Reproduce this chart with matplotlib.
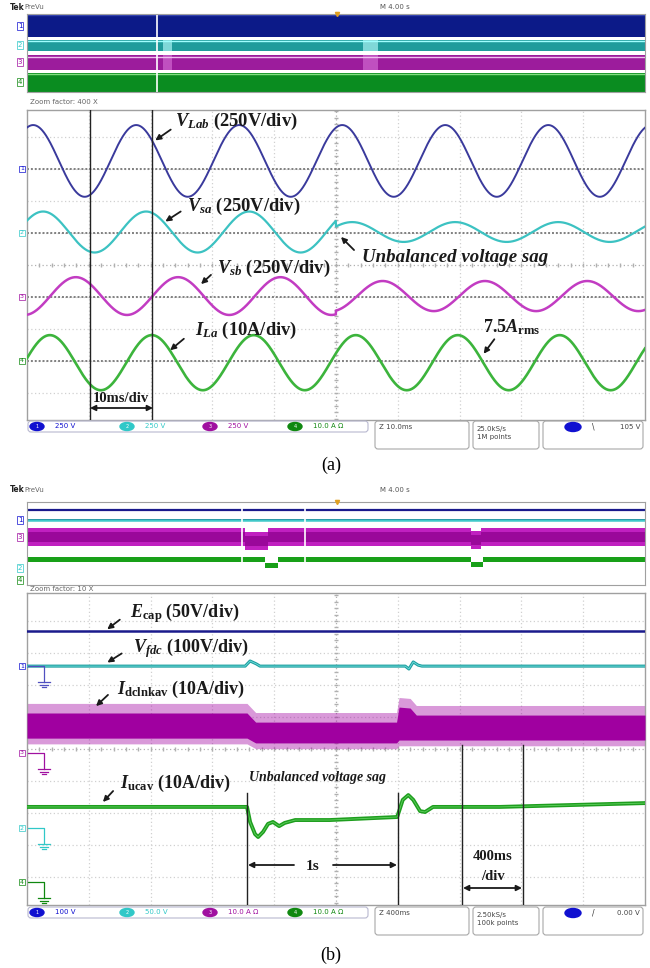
import numpy as np
import matplotlib.pyplot as plt
from matplotlib.patches import Ellipse, FancyBboxPatch

W, H = 650, 968

# ---------------- panel (a): zoomed traces, in divisions (10 ms/div) ----------------
a_names = [r'$V_{Lab}$', r'$V_{sa}$', r'$V_{sb}$', r'$I_{La}$']
a_scale = ['(250V/div)', '(250V/div)', '(250V/div)', '(10A/div)']
a_colors = ['#3a3a9c', '#3cc2c2', '#c23cc2', '#3cb43c']
a_center = [3.25, 1.03, -0.97, -3.05]
a_amp_pre = [1.12, 0.64, 0.59, 0.86]
a_amp_post = [1.12, 0.31, 0.47, 0.86]
a_peak0 = [0.10, 0.26, 0.79, 0.37]
a_period = [1.667, 1.667, 1.655, 1.65]
a_ref = [3, 1, -1, -3]
a_sag = 5.0
a_cursors = [1.02, 2.03]
a_readout = ['250 V', '250 V', '250 V', '10.0 A \u03a9']
a_boxes = ['Z 10.0ms', '25.0kS/s\n1M points', '105 V']

# overview strip (a): band extents as fraction of strip height
ova_top = [0.0, 0.33, 0.53, 0.75]
ova_bot = [0.30, 0.48, 0.72, 1.0]
ova_colors = ['#0c1a88', '#1f9c9c', '#9c1c9c', '#0a8c20']
ova_edge = ['#3040b0', '#a0ffff', '#f0c0f0', '#80e080']
ova_gap = 2.1
ova_patch = [(2.2, 2.35), (5.44, 5.68)]

# ---------------- panel (b): 400 ms/div ----------------
b_colors = ['#1a1a8c', '#1f9f9f', '#a000a0', '#1e9e1e']
b_ecap = 3.69
b_fdc_t = [0, 3.53, 3.61, 3.71, 3.77, 6.12, 6.18, 6.25, 6.33, 6.39, 10]
b_fdc_v = [2.59, 2.59, 2.75, 2.66, 2.59, 2.59, 2.50, 2.72, 2.62, 2.59, 2.59]
b_dc_t = [0, 3.56, 3.70, 5.98, 6.02, 6.20, 6.30, 10]
b_dc_top = [1.125, 1.125, 0.84, 0.84, 1.31, 1.28, 1.06, 1.06]
b_dc_bot = [0.34, 0.34, 0.19, 0.19, 0.28, 0.28, 0.28, 0.28]
b_ucav_t = [0, 3.56, 3.61, 3.69, 3.74, 3.82, 3.90, 3.98, 4.08, 4.17, 4.34, 4.90,
            5.99, 6.08, 6.17, 6.25, 6.36, 6.44, 6.57, 7.65, 10]
b_ucav_v = [-1.81, -1.81, -2.28, -2.66, -2.75, -2.59, -2.34, -2.28, -2.41, -2.31, -2.22, -2.22,
            -2.125, -1.59, -1.44, -1.59, -1.94, -1.97, -1.81, -1.81, -1.69]
b_gnd = [2.59, -2.47, -0.125, -4.16]   # channel 1..4 ground markers
b_cursors1 = [3.56, 6.0]
b_cursors2 = [7.04, 8.03]
b_readout = ['100 V', '50.0 V', '10.0 A \u03a9', '10.0 A \u03a9']
b_boxes = ['Z 400ms', '2.50kS/s\n100k points', '0.00 V']

# overview strip (b)
ovb_blue = 0.10
ovb_cyan = 0.22
ovb_mag = (0.31, 0.53)
ovb_green = 0.69
ovb_mag_dips = [(3.53, 3.90), (7.18, 7.35)]
ovb_green_dips = [(3.85, 4.06), (7.18, 7.38)]
ovb_gaps = [3.48, 4.5]

ch_colors = ['#1010d0', '#30c8c8', '#a010a0', '#108810']

plt.rcParams['mathtext.fontset'] = 'custom'
plt.rcParams['mathtext.it'] = 'Liberation Serif:italic:bold'
plt.rcParams['mathtext.rm'] = 'Liberation Serif:bold'
plt.rcParams['mathtext.bf'] = 'Liberation Serif:bold'

fig = plt.figure(figsize=(6.5, 9.68), dpi=100)


def px_axes(x0, y0, x1, y1, z=1):
    return fig.add_axes([x0 / W, 1 - y1 / H, (x1 - x0) / W, (y1 - y0) / H], zorder=z)


ov = px_axes(0, 0, W, H, z=10)
ov.set_xlim(0, W)
ov.set_ylim(H, 0)
ov.axis('off')
ov.patch.set_alpha(0)

SERIF = 'Liberation Serif'


def scope_axes(y0, y1, half):
    ax = px_axes(27, y0, 645, y1)
    ax.set_xlim(0, 10)
    ax.set_ylim(-half, half)
    ax.set_xticks([])
    ax.set_yticks([])
    for s in ax.spines.values():
        s.set_color('#a0a0a0')
        s.set_linewidth(1.0)
    for xv in range(1, 10):
        ax.axvline(xv, color='#b0b0b0' if xv == 5 else '#d0d0d0', lw=0.9,
                   ls=(0, (1, 2)), zorder=0)
    for yv in range(-4, 5):
        ax.axhline(yv, color='#b0b0b0' if yv == 0 else '#d0d0d0', lw=0.9,
                   ls=(0, (1, 2)), zorder=0)
    tk = np.arange(0.2, 10, 0.2)
    ax.plot(tk, np.zeros_like(tk), ls='none', marker='|', ms=3, color='#b0b0b0', zorder=0)
    tky = np.arange(-4.8, 4.9, 0.2)
    ax.plot(np.full_like(tky, 5.0), tky, ls='none', marker='_', ms=3, color='#b0b0b0', zorder=0)
    return ax


def header(y, zoom_txt, zoom_y):
    ov.text(10, y, 'Tek', fontsize=5.5, weight='bold', color='#222', va='center')
    ov.text(24, y, 'PreVu', fontsize=5, color='#666', va='center')
    ov.text(380, y, 'M 4.00 s', fontsize=5, color='#555', va='center')
    ov.text(30, zoom_y, zoom_txt, fontsize=5, color='#666', va='center')


def status_bar(y0, readouts, boxes, trig_sym):
    ov.add_patch(FancyBboxPatch((28, y0 + 1), 340, 11, boxstyle='round,pad=0,rounding_size=3',
                                fc='none', ec='#b8b8d0', lw=0.8))
    xs = [37, 127, 210, 295]
    for i in range(4):
        ov.add_patch(Ellipse((xs[i], y0 + 6.5), 14, 8, color=ch_colors[i]))
        ov.text(xs[i], y0 + 6.5, str(i + 1), fontsize=3.5, color='white', ha='center', va='center')
        ov.text(xs[i] + 18, y0 + 6.5, readouts[i], fontsize=5, color=ch_colors[i], va='center')
    for (bx0, bx1) in [(375, 469), (473, 539), (543, 643)]:
        ov.add_patch(FancyBboxPatch((bx0, y0 + 1), bx1 - bx0, 28,
                                    boxstyle='round,pad=0,rounding_size=3',
                                    fc='none', ec='#a8a8a8', lw=0.8))
    ov.text(379, y0 + 7, boxes[0], fontsize=5, color='#444', va='center')
    ov.text(477, y0 + 13, boxes[1], fontsize=5, color='#444', va='center', linespacing=1.3)
    ov.add_patch(Ellipse((573, y0 + 7), 16, 9, color='#1010d0'))
    ov.text(593, y0 + 7, trig_sym, fontsize=5.5, color='#333', va='center', ha='center')
    ov.text(640, y0 + 7, boxes[2], fontsize=5, color='#444', va='center', ha='right')


def label(x, y, name, scale, tail, tip, fs=13.3):
    ov.text(x, y, name + ' ' + scale, fontsize=fs, family=SERIF, weight='bold',
            color='#1a1a1a', va='center', ha='left')
    ov.annotate('', xy=tip, xytext=tail,
                arrowprops=dict(arrowstyle='-|>', color='#1a1a1a', lw=1.3, mutation_scale=8))


def dbl_arrow(x0, x1, y):
    ov.annotate('', xy=(x1, y), xytext=(x0, y),
                arrowprops=dict(arrowstyle='<|-|>', color='#1a1a1a', lw=1.3,
                                mutation_scale=8, shrinkA=0, shrinkB=0))


# ======================= panel (a) =======================
header(7, 'Zoom factor: 400 X', 102)
sa = px_axes(27, 14, 645, 92)
sa.set_xlim(0, 10)
sa.set_ylim(1, 0)
sa.set_xticks([])
sa.set_yticks([])
for s in sa.spines.values():
    s.set_color('#a0a0a0')
for i in range(4):
    sa.axhspan(ova_bot[i], ova_top[i], color=ova_colors[i], lw=0)
    sa.axhline(ova_top[i] + 0.015, color=ova_edge[i], lw=1.0)
for (p0, p1) in ova_patch:
    sa.fill_between([p0, p1], ova_top[1], ova_bot[1], color='#7fd8d8', lw=0)
    sa.fill_between([p0, p1], ova_top[2], ova_bot[2], color='#c050c0', lw=0)
sa.axvline(ova_gap, color='white', lw=1.2)
ov.plot([337], [14], marker='v', color='#e0a020', ms=3)
for i, yy in enumerate([26, 45, 62, 82]):
    ov.text(20, yy, str(i + 1), fontsize=5, color=ch_colors[i], ha='center', va='center',
            bbox=dict(boxstyle='square,pad=0.1', fc='white', ec=ch_colors[i], lw=0.5))

axa = scope_axes(110, 420, 4.84)
t = np.linspace(0, 10, 3001)
a_lw = [1.4, 1.6, 1.8, 1.9]
for i in range(4):
    axa.axhline(a_ref[i], color='#808080', lw=1.4, ls=(0, (1, 1)), zorder=1)
    amp = np.where(t < a_sag, a_amp_pre[i], a_amp_post[i])
    y = a_center[i] + amp * np.cos(2 * np.pi * (t - a_peak0[i]) / a_period[i])
    axa.plot(t, y, color=a_colors[i], lw=a_lw[i], zorder=3)
for c in a_cursors:
    axa.axvline(c, color='#222', lw=1.0, zorder=4)
for i, yv in enumerate(a_ref):
    yy = 265 - yv * 32
    ov.text(22, yy, str(i + 1), fontsize=4.5, color=ch_colors[i], ha='center', va='center',
            bbox=dict(boxstyle='square,pad=0.1', fc='white', ec=ch_colors[i], lw=0.5))

label(175, 121, a_names[0], a_scale[0], (173, 128), (153, 142))
label(187, 206, a_names[1], a_scale[1], (183, 210), (163, 223))
label(217, 268, a_names[2], a_scale[2], (213, 273), (199, 286))
label(195, 330, a_names[3], a_scale[3], (186, 337), (168, 352))
ov.text(362, 258, 'Unbalanced voltage sag', fontsize=13.6, family=SERIF, weight='bold',
        style='italic', color='#1a1a1a', va='center')
ov.annotate('', xy=(339, 235), xytext=(356, 252),
            arrowprops=dict(arrowstyle='-|>', color='#1a1a1a', lw=1.3, mutation_scale=8))
ov.text(483, 327, r'$7.5A_{\mathrm{rms}}$', fontsize=13, color='#1a1a1a', va='center')
ov.annotate('', xy=(482, 356), xytext=(496, 337),
            arrowprops=dict(arrowstyle='-|>', color='#1a1a1a', lw=1.3, mutation_scale=8))
ov.text(121, 398, '10ms/div', fontsize=10.5, family=SERIF, weight='bold',
        color='#1a1a1a', ha='center', va='center')
dbl_arrow(90, 153, 408)

status_bar(420, a_readout, a_boxes, '\\')
ov.text(331, 465, '(a)', fontsize=13, family=SERIF, ha='center', va='center')

# ======================= panel (b) =======================
header(490, 'Zoom factor: 10 X', 589)
sb = px_axes(27, 502, 645, 585)
sb.set_xlim(0, 10)
sb.set_ylim(1, 0)
sb.set_xticks([])
sb.set_yticks([])
for s in sb.spines.values():
    s.set_color('#a0a0a0')
sb.axhline(ovb_blue, color='#1a1a8c', lw=1.6)
sb.axhline(ovb_cyan, color='#40c8c8', lw=1.8)
sb.axhline(ovb_cyan - 0.02, color='#1f8f9f', lw=0.6)
xm = [0, ovb_mag_dips[0][0], ovb_mag_dips[0][0], ovb_mag_dips[0][1], ovb_mag_dips[0][1],
      ovb_mag_dips[1][0], ovb_mag_dips[1][0], ovb_mag_dips[1][1], ovb_mag_dips[1][1], 10]
dm = [0, 0, 0.05, 0.05, 0, 0, 0.04, 0.04, 0, 0]
sb.fill_between(xm, np.array(dm) + ovb_mag[0], np.array(dm) + ovb_mag[1],
                color='#c020c0', lw=0)
sb.fill_between(xm, np.array(dm) + ovb_mag[0] + 0.05, np.array(dm) + ovb_mag[1] - 0.05,
                color='#9a089a', lw=0)
xg = [0, ovb_green_dips[0][0], ovb_green_dips[0][0], ovb_green_dips[0][1], ovb_green_dips[0][1],
      ovb_green_dips[1][0], ovb_green_dips[1][0], ovb_green_dips[1][1], ovb_green_dips[1][1], 10]
dg = [0, 0, 0.07, 0.07, 0, 0, 0.06, 0.06, 0, 0]
sb.fill_between(xg, np.array(dg) + ovb_green - 0.025, np.array(dg) + ovb_green + 0.03,
                color='#18a018', lw=0)
for g in ovb_gaps:
    sb.axvline(g, color='white', lw=1.2)
ov.plot([337], [502], marker='v', color='#e0a020', ms=3)
for i, yy in zip([0, 2, 1, 3], [520, 537, 568, 580]):
    ov.text(20, yy, str(i + 1), fontsize=5, color=ch_colors[i], ha='center', va='center',
            bbox=dict(boxstyle='square,pad=0.1', fc='white', ec=ch_colors[i], lw=0.5))

axb = scope_axes(593, 905, 4.875)
axb.axhline(b_ecap, color=b_colors[0], lw=1.8, zorder=3)
axb.plot(b_fdc_t, b_fdc_v, color=b_colors[1], lw=2.2, zorder=3)
axb.plot(b_fdc_t, b_fdc_v, color='#70dede', lw=0.6, zorder=3)
env_top = np.array(b_dc_top) + 0.3
env_bot = np.array(b_dc_bot) - 0.18
axb.fill_between(b_dc_t, env_bot, env_top, color='#a000a0', alpha=0.4, lw=0, zorder=2)
axb.fill_between(b_dc_t, b_dc_bot, b_dc_top, color=b_colors[2], lw=0, zorder=3)
axb.plot(b_ucav_t, b_ucav_v, color=b_colors[3], lw=2.8, zorder=3)
axb.plot(b_ucav_t, b_ucav_v, color='#60d060', lw=0.6, zorder=3)
for c in b_cursors1:
    axb.axvline(c, ymin=0, ymax=(-1.375 + 4.875) / 9.75, color='#222', lw=1.0, zorder=4)
for c in b_cursors2:
    axb.axvline(c, ymin=0, ymax=(0.125 + 4.875) / 9.75, color='#222', lw=1.0, zorder=4)

# ground markers for channels 1-4
for i, gv in enumerate(b_gnd):
    yy = 749 - gv * 32
    ov.text(22, yy, str(i + 1), fontsize=4.5, color=ch_colors[i], ha='center', va='center',
            bbox=dict(boxstyle='square,pad=0.1', fc='white', ec=ch_colors[i], lw=0.5))
    gc = ch_colors[i] if i != 0 else '#5050c0'
    ov.plot([28, 44, 44], [yy, yy, yy + 16], color=gc, lw=0.9)
    for k, hw in enumerate([6, 4, 2]):
        ov.plot([44 - hw, 44 + hw], [yy + 16 + 2.5 * k] * 2, color=gc, lw=0.9)

label(130, 613, r'$E_{\mathrm{cap}}$', '(50V/div)', (122, 618), (105, 631), fs=13)
label(133, 648, r'$V_{fdc}$', '(100V/div)', (124, 652), (105, 664), fs=13)
label(117, 689, r'$I_{\mathrm{dclnkav}}$', '(10A/div)', (110, 693), (94, 708), fs=13)
label(120, 783, r'$I_{\mathrm{ucav}}$', '(10A/div)', (115, 789), (101, 804), fs=13)
ov.text(249, 778, 'Unbalanced voltage sag', fontsize=10, family=SERIF, weight='bold',
        style='italic', color='#1a1a1a', va='center')
ov.text(313, 866, '1s', fontsize=11, family=SERIF, weight='bold', color='#1a1a1a',
        ha='center', va='center')
ov.annotate('', xy=(248, 865), xytext=(294, 865),
            arrowprops=dict(arrowstyle='-|>', color='#1a1a1a', lw=1.3, mutation_scale=8,
                            shrinkA=0, shrinkB=0))
ov.annotate('', xy=(397, 865), xytext=(333, 865),
            arrowprops=dict(arrowstyle='-|>', color='#1a1a1a', lw=1.3, mutation_scale=8,
                            shrinkA=0, shrinkB=0))
ov.text(493, 857, '400ms', fontsize=10.5, family=SERIF, weight='bold', color='#1a1a1a',
        ha='center', va='center')
ov.text(493, 877, '/div', fontsize=10.5, family=SERIF, weight='bold', color='#1a1a1a',
        ha='center', va='center')
dbl_arrow(463, 522, 888)

status_bar(906, b_readout, b_boxes, '/')
ov.text(331, 955, '(b)', fontsize=13, family=SERIF, ha='center', va='center')

fig.savefig('out.png', dpi=100)
